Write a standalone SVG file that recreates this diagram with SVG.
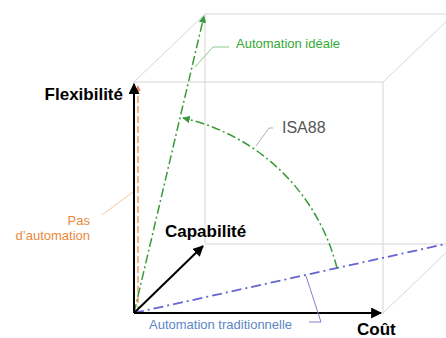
<svg xmlns="http://www.w3.org/2000/svg" width="446" height="338" viewBox="0 0 446 338">
<style>
.cube{stroke:#d6d6d6;stroke-width:1;fill:none}
.axis{stroke:#000;stroke-width:2;fill:none}
.green{stroke:#3a9a3a;stroke-width:1.5;fill:none;stroke-dasharray:9,3,2,3}
.orange{stroke:#f0a060;stroke-width:1.5;fill:none;stroke-dasharray:7,3}
.blue{stroke:#6464d2;stroke-width:1.8;fill:none;stroke-dasharray:10,4,2,4}
.lead{fill:none;stroke-width:1}
.big{font-family:"Liberation Sans",Arial,sans-serif;font-weight:bold;font-size:17px;fill:#000}
.small{font-family:"Liberation Sans",Arial,sans-serif;font-size:13px}
</style>
<defs>
<marker id="ablack" viewBox="0 0 10 10" refX="9" refY="5" markerWidth="5.5" markerHeight="5.5" orient="auto" markerUnits="strokeWidth"><path d="M0,0 L10,5 L0,10 z" fill="#000"/></marker>
<marker id="agreen" viewBox="0 0 10 10" refX="9" refY="5" markerWidth="5" markerHeight="5" orient="auto" markerUnits="strokeWidth"><path d="M0,0 L10,5 L0,10 z" fill="#3a9a3a"/></marker>
<marker id="aorange" viewBox="0 0 10 10" refX="9" refY="5" markerWidth="4" markerHeight="4" orient="auto" markerUnits="strokeWidth"><path d="M0,0 L10,5 L0,10 z" fill="#f08060"/></marker>
</defs>
<rect width="446" height="338" fill="#fff"/>
<g id="cube">
<rect class="cube" x="134" y="82" width="249" height="231"/>
<line class="cube" x1="205" y1="14" x2="446" y2="14"/>
<line class="cube" x1="205" y1="14" x2="205" y2="244"/>
<line class="cube" x1="205" y1="244" x2="446" y2="244"/>
<line class="cube" x1="134" y1="82" x2="205" y2="14"/>
<line class="cube" x1="383" y1="82" x2="450" y2="18"/>
<line class="cube" x1="383" y1="313" x2="450" y2="249"/>
</g>
<g id="connectors">
<line class="orange" x1="138" y1="313" x2="138" y2="86" marker-end="url(#aorange)"/>
<line class="green" x1="134" y1="313" x2="204" y2="16" marker-end="url(#agreen)"/>
<line class="blue" x1="134" y1="313" x2="450" y2="243"/>
<path class="green" d="M337,268 A205,205 0 0 0 183,118" marker-end="url(#agreen)"/>
<line class="axis" x1="134" y1="313" x2="134" y2="84" marker-end="url(#ablack)"/>
<line class="axis" x1="134" y1="313" x2="381" y2="313" marker-end="url(#ablack)"/>
<line class="axis" x1="134" y1="313" x2="203" y2="246" marker-end="url(#ablack)"/>
<polyline class="lead" stroke="#8cc88c" points="195,67 213,47 229,47"/>
<polyline class="lead" stroke="#b0b0b0" points="256,146 269,128 273,128"/>
<line class="lead" stroke="#f2c8a0" x1="102" y1="215" x2="133" y2="192"/>
<polyline class="lead" stroke="#8080d0" points="306,276 321,322 309,322"/>
</g>
<g id="flexibilite"><text class="big" x="123" y="100" text-anchor="end">Flexibilité</text></g>
<g id="capabilite"><text class="big" x="165" y="237">Capabilité</text></g>
<g id="cout"><text class="big" x="357" y="335">Coût</text></g>
<g id="automation-ideale"><text class="small" x="236" y="48" fill="#33aa33">Automation idéale</text></g>
<g id="isa88"><text x="282" y="133" font-family="Liberation Sans, Arial, sans-serif" font-size="16" fill="#555">ISA88</text></g>
<g id="pas-automation"><text class="small" fill="#e8893a" text-anchor="end"><tspan x="90" y="225">Pas</tspan><tspan x="90" y="240">d’automation</tspan></text></g>
<g id="automation-traditionnelle"><text class="small" x="149" y="329" fill="#5b86c5">Automation traditionnelle</text></g>
</svg>
